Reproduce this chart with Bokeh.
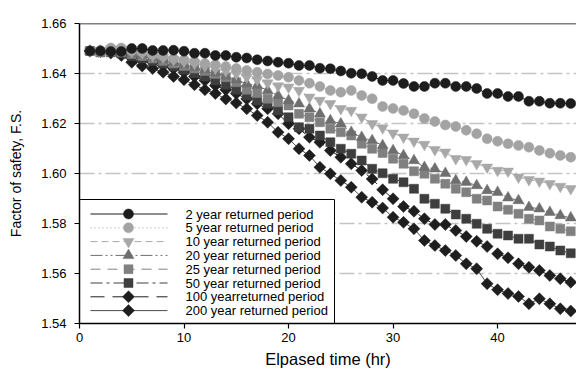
from bokeh.plotting import figure
from bokeh.models import Range1d, FixedTicker, NumeralTickFormatter, Span, Title
from bokeh.core.properties import value
from bokeh.embed import file_html
from bokeh.resources import INLINE

# Elapsed time (hours)
hours = list(range(1, 48))

fs_2yr = [1.6490, 1.6490, 1.6488, 1.6488, 1.6500, 1.6500, 1.6492, 1.6492, 1.6493, 1.6489,
          1.6481, 1.6481, 1.6472, 1.6472, 1.6465, 1.6462, 1.6455, 1.6450, 1.6445, 1.6441,
          1.6432, 1.6432, 1.6421, 1.6419, 1.6410, 1.6401, 1.6399, 1.6388, 1.6372, 1.6372,
          1.6360, 1.6348, 1.6348, 1.6361, 1.6361, 1.6348, 1.6348, 1.6340, 1.6320, 1.6320,
          1.6308, 1.6308, 1.6289, 1.6289, 1.6281, 1.6281, 1.6280]
fs_5yr = [1.6490, 1.6492, 1.6502, 1.6502, 1.6490, 1.6485, 1.6475, 1.6470, 1.6460, 1.6455,
          1.6448, 1.6440, 1.6435, 1.6428, 1.6420, 1.6412, 1.6405, 1.6398, 1.6392, 1.6385,
          1.6372, 1.6361, 1.6348, 1.6332, 1.6325, 1.6332, 1.6312, 1.6299, 1.6268, 1.6260,
          1.6252, 1.6239, 1.6220, 1.6208, 1.6194, 1.6188, 1.6173, 1.6159, 1.6139, 1.6129,
          1.6119, 1.6112, 1.6105, 1.6092, 1.6081, 1.6072, 1.6065]
fs_10yr = [1.6490, 1.6492, 1.6498, 1.6495, 1.6488, 1.6482, 1.6472, 1.6465, 1.6455, 1.6448,
           1.6440, 1.6430, 1.6420, 1.6410, 1.6398, 1.6385, 1.6375, 1.6362, 1.6350, 1.6345,
           1.6332, 1.6305, 1.6292, 1.6279, 1.6259, 1.6252, 1.6225, 1.6199, 1.6182, 1.6161,
           1.6145, 1.6129, 1.6116, 1.6095, 1.6085, 1.6059, 1.6055, 1.6039, 1.6025, 1.6012,
           1.6009, 1.5985, 1.5975, 1.5969, 1.5959, 1.5948, 1.5939]
fs_20yr = [1.6490, 1.6490, 1.6495, 1.6490, 1.6480, 1.6475, 1.6465, 1.6455, 1.6445, 1.6435,
           1.6425, 1.6415, 1.6403, 1.6390, 1.6375, 1.6359, 1.6352, 1.6332, 1.6312, 1.6292,
           1.6279, 1.6259, 1.6239, 1.6212, 1.6199, 1.6165, 1.6145, 1.6132, 1.6112, 1.6092,
           1.6072, 1.6052, 1.6025, 1.6019, 1.6001, 1.5972, 1.5965, 1.5952, 1.5932, 1.5925,
           1.5903, 1.5892, 1.5865, 1.5859, 1.5845, 1.5832, 1.5823]
fs_25yr = [1.6490, 1.6485, 1.6488, 1.6485, 1.6478, 1.6470, 1.6460, 1.6450, 1.6440, 1.6430,
           1.6420, 1.6410, 1.6398, 1.6385, 1.6365, 1.6335, 1.6322, 1.6299, 1.6285, 1.6272,
           1.6239, 1.6225, 1.6205, 1.6179, 1.6165, 1.6152, 1.6119, 1.6099, 1.6082, 1.6059,
           1.6039, 1.6009, 1.5999, 1.5979, 1.5959, 1.5939, 1.5925, 1.5899, 1.5892, 1.5868,
           1.5855, 1.5839, 1.5819, 1.5812, 1.5788, 1.5779, 1.5769]
fs_50yr = [1.6490, 1.6485, 1.6485, 1.6480, 1.6470, 1.6460, 1.6450, 1.6440, 1.6428, 1.6415,
           1.6402, 1.6388, 1.6372, 1.6355, 1.6335, 1.6312, 1.6292, 1.6279, 1.6252, 1.6225,
           1.6185, 1.6179, 1.6152, 1.6125, 1.6099, 1.6079, 1.6052, 1.6019, 1.6001, 1.5979,
           1.5965, 1.5939, 1.5899, 1.5879, 1.5859, 1.5836, 1.5819, 1.5799, 1.5779, 1.5759,
           1.5752, 1.5739, 1.5739, 1.5716, 1.5708, 1.5692, 1.5681]
fs_100yr = [1.6490, 1.6490, 1.6488, 1.6480, 1.6465, 1.6452, 1.6445, 1.6432, 1.6420, 1.6405,
            1.6388, 1.6372, 1.6352, 1.6335, 1.6320, 1.6298, 1.6279, 1.6259, 1.6239, 1.6199,
            1.6179, 1.6145, 1.6125, 1.6092, 1.6065, 1.6039, 1.6012, 1.5978, 1.5935, 1.5899,
            1.5868, 1.5849, 1.5819, 1.5796, 1.5796, 1.5772, 1.5748, 1.5729, 1.5708, 1.5679,
            1.5663, 1.5639, 1.5625, 1.5612, 1.5592, 1.5579, 1.5565]
fs_200yr = [1.6490, 1.6488, 1.6482, 1.6472, 1.6445, 1.6430, 1.6420, 1.6405, 1.6388, 1.6375,
            1.6355, 1.6335, 1.6320, 1.6298, 1.6282, 1.6259, 1.6232, 1.6205, 1.6165, 1.6139,
            1.6099, 1.6072, 1.6025, 1.5999, 1.5972, 1.5945, 1.5905, 1.5885, 1.5862, 1.5825,
            1.5805, 1.5779, 1.5732, 1.5712, 1.5692, 1.5672, 1.5639, 1.5619, 1.5559, 1.5535,
            1.5520, 1.5508, 1.5479, 1.5499, 1.5479, 1.5459, 1.5450]

series_labels = ["2 year returned period", "5 year returned period",
                 "10 year returned period", "20 year returned period",
                 "25 year returned period", "50 year returned period",
                 "100 yearreturned period", "200 year returned period"]
y_ticks = [1.54, 1.56, 1.58, 1.60, 1.62, 1.64, 1.66]
x_ticks = [0, 10, 20, 30, 40]

FONT = "Liberation Sans"

# (values, marker, size, angle, fill colour, line colour, line dash)
styles = [
    (fs_2yr, "circle", 10, 0, "#1c1c1c", "#1c1c1c", "solid"),
    (fs_5yr, "circle", 10, 0, "#a3a3a3", "#a3a3a3", "1 3"),
    (fs_10yr, "inverted_triangle", 11, 0, "#a8a8a8", "#a8a8a8", "7 4"),
    (fs_20yr, "triangle", 11, 0, "#6e6e6e", "#6e6e6e", "12 3 2 3 2 3"),
    (fs_25yr, "square", 9, 0, "#808080", "#808080", "10 7"),
    (fs_50yr, "square", 9, 0, "#3e3e3e", "#3e3e3e", "12 4 3 4"),
    (fs_100yr, "square", 8.5, 45, "#1e1e1e", "#1e1e1e", "14 8"),
    (fs_200yr, "square", 8.5, 45, "#1e1e1e", "#4a4a4a", "solid"),
]

FRAME_W, FRAME_H = 497, 300
p = figure(width=576, height=373, output_backend="svg", toolbar_location=None,
           x_range=Range1d(0, 47.55), y_range=Range1d(1.54, 1.66),
           min_border_left=79, min_border_right=0, min_border_top=23,
           min_border_bottom=50)
p.outline_line_color = None
p.background_fill_color = "white"
p.border_fill_color = "white"

# pixel-based ranges for placing the legend box inside the frame
p.extra_x_ranges = {"px": Range1d(0, FRAME_W)}
p.extra_y_ranges = {"px": Range1d(0, FRAME_H)}

# horizontal dash-dot reference lines
p.xgrid.grid_line_color = None
p.ygrid.ticker = FixedTicker(ticks=y_ticks)
p.ygrid.grid_line_color = "#c4c4c4"
p.ygrid.grid_line_width = 1.3
p.ygrid.grid_line_dash = "15 4 3 4"

# frame top edge
p.add_layout(Span(location=1.66, dimension="width", line_color="black",
                  line_width=1.5))

for i in reversed(range(len(styles))):
    vals, marker, size, ang, fill, lcol, dash = styles[i]
    p.line(hours, vals, line_color=lcol, line_width=1, line_dash=dash)
    p.scatter(hours, vals, marker=marker, size=size, angle=ang,
              angle_units="deg", fill_color=fill, line_color=fill,
              line_width=0.5)

# legend box in the lower-left corner of the frame
LEG_W, LEG_H = 255, 124
ROW0, PITCH = 109.5, 13.8
SAMPLE_X0, SAMPLE_X1, MARK_X, TEXT_X = 11, 88, 49, 106
p.quad(left=[0], right=[LEG_W], bottom=[0], top=[LEG_H], fill_color="white",
       line_color="black", line_width=1, x_range_name="px", y_range_name="px")
for i, (vals, marker, size, ang, fill, lcol, dash) in enumerate(styles):
    ry = ROW0 - PITCH * i
    p.line([SAMPLE_X0, SAMPLE_X1], [ry, ry], line_color=lcol, line_width=1,
           line_dash=dash, x_range_name="px", y_range_name="px")
    p.scatter([MARK_X], [ry], marker=marker, size=size, angle=ang,
              angle_units="deg", fill_color=fill, line_color=fill,
              line_width=0.5, x_range_name="px", y_range_name="px")
    p.text([TEXT_X], [ry], text=[series_labels[i]], text_font=value(FONT),
           text_font_size="13px", text_color="black", text_baseline="middle",
           x_range_name="px", y_range_name="px")

for ax in (p.xaxis[0], p.yaxis[0]):
    ax.axis_line_color = "black"
    ax.axis_line_width = 1.5
    ax.major_tick_line_color = "black"
    ax.major_tick_line_width = 1.2
    ax.major_tick_out = 5
    ax.major_tick_in = 0
    ax.minor_tick_line_color = None
    ax.major_label_text_font = FONT
    ax.major_label_text_font_size = "13px"
    ax.major_label_text_color = "black"
    ax.axis_label_text_font = FONT
    ax.axis_label_text_font_style = "normal"
    ax.axis_label_text_color = "black"

p.xaxis.ticker = FixedTicker(ticks=x_ticks)
p.yaxis.ticker = FixedTicker(ticks=y_ticks)
p.yaxis.formatter = NumeralTickFormatter(format="0.00")
p.yaxis.axis_label = "Factor of safety, F.S."
p.yaxis.axis_label_text_font_size = "14px"
p.xaxis.major_label_standoff = 4
p.yaxis.major_label_standoff = 8
p.yaxis.axis_label_standoff = 14

# x-axis title as a centred caption below the axis
p.add_layout(Title(text="Elpased time (hr)", align="center",
                   text_font=FONT, text_font_size="16.5px",
                   text_font_style="normal", text_color="black",
                   standoff=6, offset=0), "below")

open("out.html", "w").write(file_html(p, INLINE))
